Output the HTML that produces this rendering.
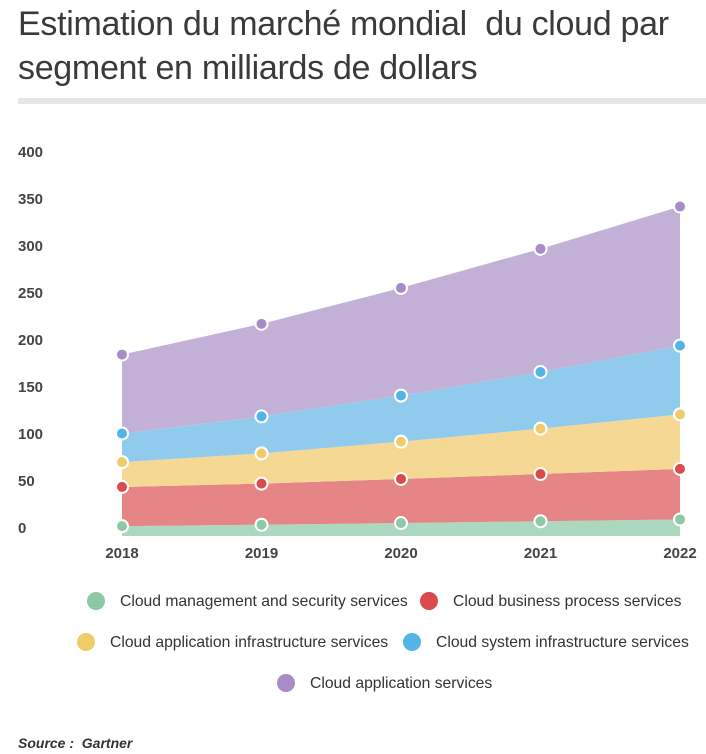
<!DOCTYPE html>
<html><head><meta charset="utf-8"><style>
body{margin:0;width:706px;height:754px;background:#fff;font-family:"Liberation Sans",sans-serif;overflow:hidden;position:relative}
h1{position:absolute;left:18px;top:2px;margin:0;font-weight:normal;font-size:34px;line-height:44px;color:#3a3a3a;letter-spacing:-0.3px}
.bar{position:absolute;left:18px;top:98px;width:688px;height:6px;background:#e6e6e6}
.src{position:absolute;left:18px;top:735px;font-size:14px;font-style:italic;font-weight:bold;color:#333}
</style></head><body>
<h1>Estimation du marché mondial &nbsp;du cloud par<br>segment en milliards de dollars</h1>
<div class="bar"></div>
<svg id="c" width="706" height="730" style="position:absolute;left:0;top:0"></svg>
<div class="src">Source : &nbsp;Gartner</div>
<script>
const years=["2018","2019","2020","2021","2022"];
const mgmt=[10.5,12.0,13.8,15.7,17.6];
const bpaas=[41.7,43.7,46.9,50.2,53.8];
const paas=[26.4,32.2,39.7,48.3,58.0];
const iaas=[30.4,39.3,49.0,60.3,73.1];
const saas=[84.0,98.5,114.5,131.0,148.0];
const yTicks=[0,50,100,150,200,250,300,350,400];
const names=["Cloud management and security services","Cloud business process services","Cloud application infrastructure services","Cloud system infrastructure services","Cloud application services"];
const fills=["#acd8bf","#e58586","#f4d894","#90cbee","#c3b0d6"];
const dots=["#8dc9a6","#db4a4d","#f0cb6a","#55b4e7","#a98bc8"];
const svg=document.getElementById('c');const NS="http://www.w3.org/2000/svg";
const x=i=>122+i*139.5;const y=v=>536-v*0.94;
function el(t,a,p){const e=document.createElementNS(NS,t);for(const k in a)e.setAttribute(k,a[k]);(p||svg).appendChild(e);return e;}
yTicks.forEach(t=>{const e=el('text',{x:18,y:y(t)-3,'font-size':15,'font-weight':'bold',fill:'#444'});e.textContent=t;

});
years.forEach((yr,i)=>{const e=el('text',{x:x(i),y:558,'font-size':15,'font-weight':'bold',fill:'#444','text-anchor':'middle'});e.textContent=yr;

});
const series=[mgmt,bpaas,paas,iaas,saas];
let base=years.map(()=>0);const tops=[];
series.forEach((s,k)=>{const top=base.map((b,i)=>b+s[i]);
let d='M'+years.map((_,i)=>x(i)+','+y(top[i])).join(' L');
for(let i=years.length-1;i>=0;i--)d+=' L'+x(i)+','+y(base[i]);
const p=el('path',{d:d+'Z',fill:fills[k]});


tops.push(top);base=top;});
tops.forEach((top,k)=>top.forEach((v,i)=>{const c=el('circle',{cx:x(i),cy:y(v),r:6,fill:dots[k],stroke:'#fff','stroke-width':2});

}));
const leg=[[96,601,0],[429,601,1],[86,642,2],[412,642,3],[286,683,4]];
leg.forEach(([lx,ly,k])=>{const g=el('g',{});


el('circle',{cx:lx,cy:ly,r:9,fill:dots[k]},g);const t=el('text',{x:lx+24,y:ly+5,'font-size':15.7,fill:'#333'},g);t.textContent=names[k];});
</script>
</body></html>
